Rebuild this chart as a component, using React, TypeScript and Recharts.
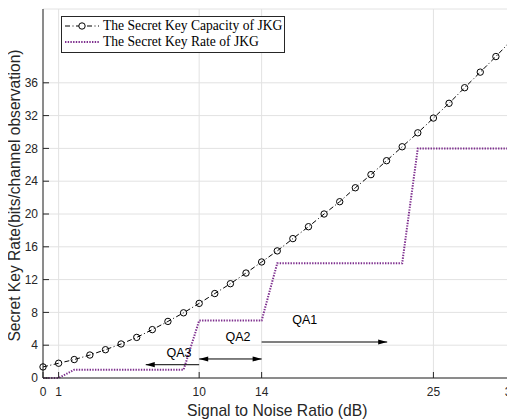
import React from 'react';
import {
  LineChart,
  Line,
  XAxis,
  YAxis,
  CartesianGrid,
  Legend,
  ReferenceLine,
  ReferenceDot,
} from 'recharts';

// ---------- data ----------
const snrDb = [0, 1, 2, 3, 4, 5, 6, 7, 8, 9, 10, 11, 12, 13, 14, 15, 16, 17, 18, 19, 20, 21, 22, 23, 24, 25, 26, 27, 28, 29, 30];
const keyCapacity = [1.35, 1.8, 2.25, 2.8, 3.45, 4.15, 4.95, 5.9, 6.9, 7.95, 9.1, 10.3, 11.5, 12.8, 14.15, 15.5, 17.0, 18.45, 20.0, 21.5, 23.2, 24.8, 26.5, 28.2, 29.9, 31.7, 33.5, 35.4, 37.3, 39.2, 41.2];
const keyRate = [0, 0, 1, 1, 1, 1, 1, 1, 1, 1, 7, 7, 7, 7, 7, 14, 14, 14, 14, 14, 14, 14, 14, 14, 28, 28, 28, 28, 28, 28, 28];

const xTicks = [0, 1, 10, 14, 25, 30];
const yTicks = [0, 4, 8, 12, 16, 20, 24, 28, 32, 36];

const seriesNames = ['The Secret Key Capacity of JKG', 'The Secret Key Rate of JKG'];

// annotation arrows: [xStart, xEnd, y, doubleHeaded]
const arrowQA3 = { x1: 10, x2: 6.58, y: 1.62, both: false };
const arrowQA2 = { x1: 10, x2: 14, y: 2.32, both: true };
const arrowQA1 = { x1: 14, x2: 22.04, y: 4.39, both: false };
const arrowList = [arrowQA3, arrowQA2, arrowQA1];

// annotation labels
const annoLabels = ['QA3', 'QA2', 'QA1'];
const annoX = [8.71, 12.49, 16.76];
const annoY = [3.05, 4.95, 7.02];

const tableData = snrDb.map((s, i) => ({ snr: s, capacity: keyCapacity[i], rate: keyRate[i] }));

const AX = '#262626';
const PURPLE = '#7E2F8E';
const SANS = '"Liberation Sans", Arial, Helvetica, sans-serif';
const SERIF = '"Liberation Serif", "Times New Roman", serif';

const makeArrowShape = (both: boolean) => (p: any) => {
  const { x1, y1, x2, y2 } = p;
  const dx = x2 - x1;
  const dy = y2 - y1;
  const len = Math.sqrt(dx * dx + dy * dy) || 1;
  const ux = dx / len;
  const uy = dy / len;
  const L = 9;
  const W = 2.6;
  const head = (tx: number, ty: number, vx: number, vy: number) => {
    const bx = tx - vx * L;
    const by = ty - vy * L;
    return `${tx},${ty} ${bx - vy * W},${by + vx * W} ${bx + vy * W},${by - vx * W}`;
  };
  return (
    <g>
      <line x1={x1} y1={y1} x2={x2} y2={y2} stroke="#000" strokeWidth={1} />
      <polygon points={head(x2, y2, ux, uy)} fill="#000" />
      {both ? <polygon points={head(x1, y1, -ux, -uy)} fill="#000" /> : null}
    </g>
  );
};

const renderLegend = () => (
  <div
    style={{
      boxSizing: 'border-box',
      width: 224,
      border: `1px solid ${AX}`,
      background: '#fff',
      padding: '1px 2px 2px 2px',
      fontFamily: SERIF,
      fontSize: 13.6,
      lineHeight: '16px',
      color: '#000',
      whiteSpace: 'nowrap',
    }}
  >
    <div style={{ display: 'flex', alignItems: 'center', height: 16 }}>
      <svg width={36} height={16} style={{ display: 'block', flex: 'none' }}>
        <line x1={1} y1={8} x2={35} y2={8} stroke="#000" strokeWidth={1} strokeDasharray="5 2.5 1 2.5" />
        <circle cx={18} cy={8} r={3.2} fill="#fff" stroke="#000" strokeWidth={1} />
      </svg>
      <span style={{ marginLeft: 3 }}>{seriesNames[0]}</span>
    </div>
    <div style={{ display: 'flex', alignItems: 'center', height: 16 }}>
      <svg width={36} height={16} style={{ display: 'block', flex: 'none' }}>
        <line x1={1} y1={8} x2={35} y2={8} stroke={PURPLE} strokeWidth={2} strokeDasharray="1.4 1.3" />
      </svg>
      <span style={{ marginLeft: 3 }}>{seriesNames[1]}</span>
    </div>
  </div>
);

export default function App() {
  return (
    <div style={{ width: 507, height: 412 }}>
      <LineChart
        width={507}
        height={412}
        data={tableData}
        margin={{ top: 1, right: 3.5, left: 0, bottom: 12 }}
      >
        <CartesianGrid stroke="#e2e2e2" strokeWidth={1} />
        <XAxis
          dataKey="snr"
          type="number"
          domain={[0, 30]}
          ticks={xTicks}
          interval={0}
          height={30}
          stroke={AX}
          tickSize={-6}
          tickMargin={15.5}
          tick={{ fill: AX, fontSize: 12, fontFamily: SANS }}
          allowDecimals={false}
          label={{
            content: (p: any) => {
              const vb = p && p.viewBox ? p.viewBox : { x: 35, y: 370, width: 468.5, height: 30 };
              return (
                <text
                  x={vb.x + vb.width / 2}
                  y={vb.y + 37.5}
                  textAnchor="middle"
                  fontSize={15.7}
                  fontFamily={SANS}
                  fill={AX}
                >
                  Signal to Noise Ratio (dB)
                </text>
              );
            },
          }}
        />
        <XAxis
          xAxisId="top"
          orientation="top"
          type="number"
          domain={[0, 30]}
          ticks={xTicks}
          interval={0}
          height={0}
          stroke={AX}
          tickSize={-6}
          tick={false}
        />
        <YAxis
          type="number"
          domain={[0, 45]}
          ticks={yTicks}
          interval={0}
          width={35}
          stroke={AX}
          tickSize={-6}
          tickMargin={11}
          tick={{ fill: AX, fontSize: 12, fontFamily: SANS }}
          label={{
            content: (p: any) => {
              const vb = p && p.viewBox ? p.viewBox : { x: 0, y: 1, width: 35, height: 369 };
              const cy = vb.y + vb.height / 2 + 2;
              const cx = 12;
              return (
                <text
                  x={cx}
                  y={cy}
                  transform={`rotate(-90, ${cx}, ${cy})`}
                  textAnchor="middle"
                  fontSize={15.6}
                  fontFamily={SANS}
                  fill={AX}
                >
                  Secret Key Rate(bits/channel observation)
                </text>
              );
            },
          }}
        />
        <YAxis
          yAxisId="right"
          orientation="right"
          type="number"
          domain={[0, 45]}
          ticks={yTicks}
          interval={0}
          width={0}
          stroke={AX}
          tickSize={-6}
          tick={false}
        />
        <Line
          type="linear"
          dataKey="rate"
          name={seriesNames[1]}
          stroke={PURPLE}
          strokeWidth={2}
          strokeDasharray="1.4 1.3"
          dot={false}
          activeDot={false}
          isAnimationActive={false}
        />
        <Line
          type="linear"
          dataKey="capacity"
          name={seriesNames[0]}
          stroke="#000"
          strokeWidth={1}
          strokeDasharray="5 2.5 1 2.5"
          dot={{ r: 3.2, stroke: '#000', strokeWidth: 1, fill: 'none', strokeDasharray: '' }}
          activeDot={false}
          isAnimationActive={false}
        />
        {arrowList.map((a, i) => (
          <ReferenceLine
            key={`arrow-${i}`}
            segment={[
              { x: a.x1, y: a.y },
              { x: a.x2, y: a.y },
            ]}
            ifOverflow="visible"
            shape={makeArrowShape(a.both)}
          />
        ))}
        {annoLabels.map((t, i) => (
          <ReferenceDot
            key={`anno-${i}`}
            x={annoX[i]}
            y={annoY[i]}
            r={1}
            ifOverflow="visible"
            shape={(p: any) => (
              <text
                x={p.cx}
                y={p.cy}
                textAnchor="middle"
                dominantBaseline="central"
                fontSize={12.5}
                fontFamily={SANS}
                fill="#000"
              >
                {t}
              </text>
            )}
          />
        ))}
        <Legend
          layout="horizontal"
          verticalAlign="middle"
          align="center"
          content={renderLegend}
          wrapperStyle={{ left: 53, top: 8, width: 'auto', height: 'auto' }}
        />
      </LineChart>
    </div>
  );
}
